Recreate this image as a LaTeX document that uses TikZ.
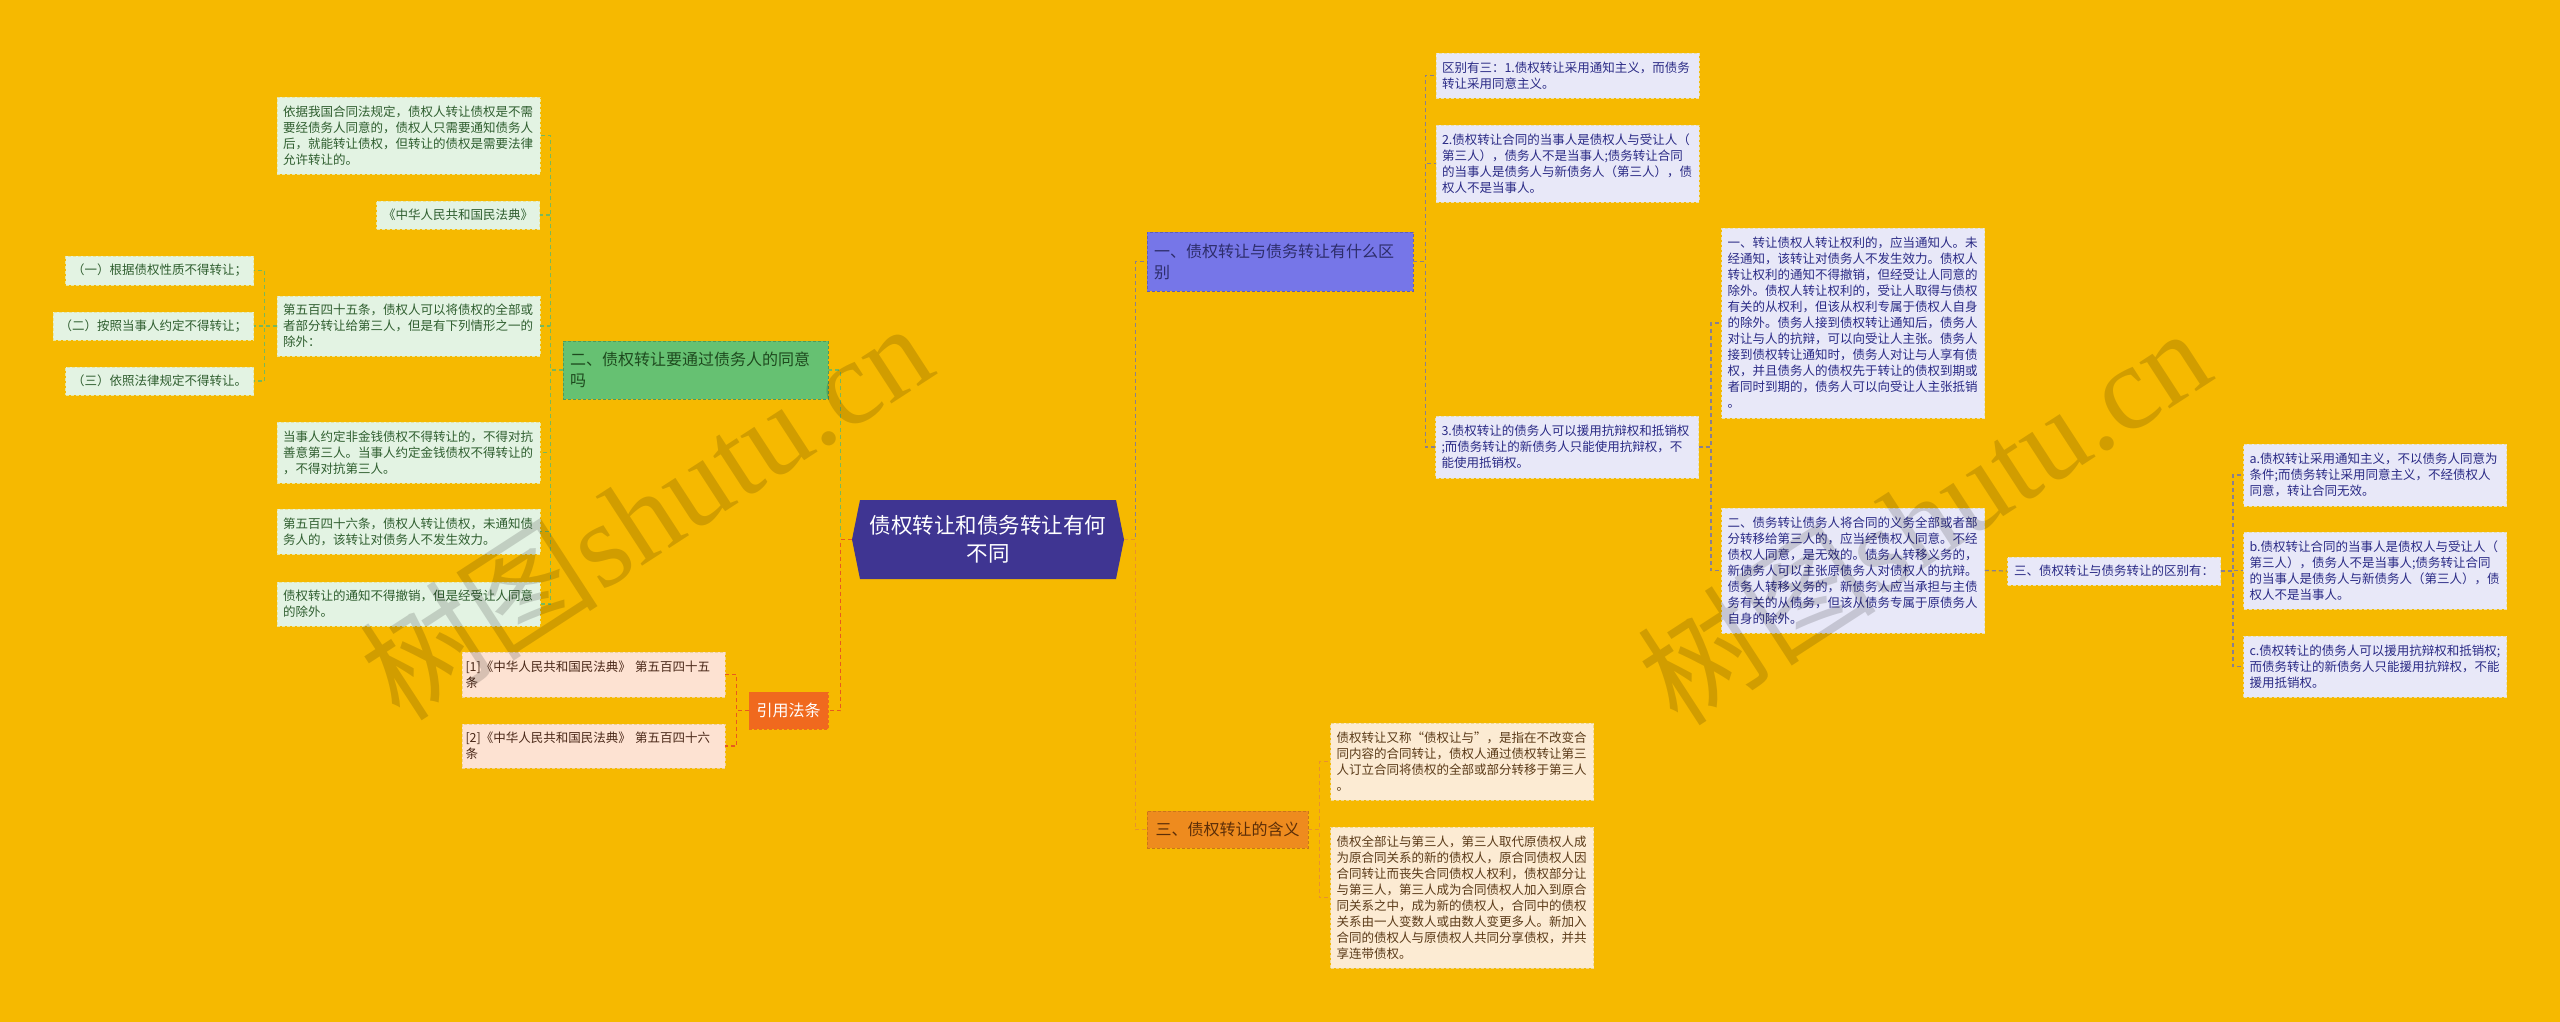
\documentclass[tikz,border=0pt]{standalone}
\usepackage{fontspec}
\setmainfont{Noto Sans CJK SC}
\newfontfamily\wmserif{Liberation Serif}
\usetikzlibrary{calc}
\definecolor{bg}{HTML}{F6B900}
\definecolor{cfill}{HTML}{3F3592}
\definecolor{gfill}{HTML}{66C172}
\definecolor{gtext}{HTML}{1E4A1E}
\definecolor{gline}{HTML}{78B85A}
\definecolor{gleaf}{HTML}{E3F3E3}
\definecolor{gleafb}{HTML}{E8E6A0}
\definecolor{gleaft}{HTML}{2F5E2F}
\definecolor{pfill}{HTML}{7676E8}
\definecolor{ptext}{HTML}{2D2D6B}
\definecolor{pline}{HTML}{8A7F8F}
\definecolor{pleaf}{HTML}{E8E8F8}
\definecolor{pleafb}{HTML}{E8E0B0}
\definecolor{pleaft}{HTML}{2A2A85}
\definecolor{ofill}{HTML}{EE8B1E}
\definecolor{otext}{HTML}{5C2E08}
\definecolor{oline}{HTML}{E8922E}
\definecolor{oleaf}{HTML}{FCEBD3}
\definecolor{oleafb}{HTML}{F0D890}
\definecolor{oleaft}{HTML}{5A3A18}
\definecolor{rfill}{HTML}{F0691E}
\definecolor{rline}{HTML}{E85A1E}
\definecolor{rleaf}{HTML}{FDE2D2}
\definecolor{rleafb}{HTML}{F0D090}
\definecolor{rleaft}{HTML}{4A2818}
\begin{document}
\begin{tikzpicture}[x=1pt,y=-1pt,
  conn/.style={line width=1.2pt, dash pattern=on 4pt off 3pt},
  box/.style={draw, line width=0.8pt, dash pattern=on 3pt off 2pt, inner ysep=0pt, align=left},
  leaf/.style={box, text width=251, inner xsep=6, font=\fontsize{12.5}{16}\selectfont},
  short/.style={box, inner xsep=6.5, minimum height=28, font=\fontsize{12.5}{16}\selectfont},
  mainb/.style={box, inner xsep=7, font=\fontsize{16}{21}\selectfont},
  gleafs/.style={fill=gleaf, draw=gleafb, text=gleaft},
  pleafs/.style={fill=pleaf, draw=pleafb, text=pleaft},
  oleafs/.style={fill=oleaf, draw=oleafb, text=oleaft},
  rleafs/.style={fill=rleaf, draw=rleafb, text=rleaft},
]
\useasboundingbox (0,0) rectangle (2560,1022);
\fill[bg] (0,0) rectangle (2560,1022);

% root
\fill[cfill] (852,539.5) -- (860,500) -- (1116,500) -- (1124,539.5) -- (1116,579) -- (860,579) -- cycle;
\node[minimum width=272, minimum height=79, inner sep=0pt, align=center, text=white,
      font=\fontsize{21.5}{28}\selectfont] (root) at (988,539.5) {债权转让和债务转让有何\\不同};

% green branch
\node[mainb, fill=gfill, draw=gfill!80!black, text=gtext, text width=251, minimum height=58] (G) at (695.5,370) {二、债权转让要通过债务人的同意\\吗};
\node[leaf, gleafs, minimum height=77] (A) at (408.5,135.5) {依据我国合同法规定，债权人转让债权是不需\\要经债务人同意的，债权人只需要通知债务人\\后，就能转让债权，但转让的债权是需要法律\\允许转让的。};
\node[short, gleafs, anchor=east] (B) at (540,215) {《中华人民共和国民法典》};
\node[leaf, gleafs, minimum height=60] (Cc) at (408.5,326) {第五百四十五条，债权人可以将债权的全部或\\者部分转让给第三人，但是有下列情形之一的\\除外：};
\node[leaf, gleafs, minimum height=61] (D) at (408.5,452.5) {当事人约定非金钱债权不得转让的，不得对抗\\善意第三人。当事人约定金钱债权不得转让的\\，不得对抗第三人。};
\node[leaf, gleafs, minimum height=45] (E) at (408.5,531.5) {第五百四十六条，债权人转让债权，未通知债\\务人的，该转让对债务人不发生效力。};
\node[leaf, gleafs, minimum height=44] (F) at (408.5,604) {债权转让的通知不得撤销，但是经受让人同意\\的除外。};
\node[short, gleafs, anchor=east, minimum height=29] (L1) at (254,270.5) {（一）根据债权性质不得转让；};
\node[short, gleafs, anchor=east] (L2) at (254,326) {（二）按照当事人约定不得转让；};
\node[short, gleafs, anchor=east] (L3) at (254,381) {（三）依照法律规定不得转让。};

% reference branch
\node[mainb, fill=rfill, draw=rfill, text=white, minimum width=79, minimum height=37, inner xsep=0pt, align=center] (Ref) at (788.5,710.5) {引用法条};
\node[box, rleafs, text width=256, inner xsep=3.5, minimum height=45, font=\fontsize{12.5}{16}\selectfont] (R1) at (593.5,674.5) {[1]《中华人民共和国民法典》~第五百四十五\\条};
\node[box, rleafs, text width=256, inner xsep=3.5, minimum height=44, font=\fontsize{12.5}{16}\selectfont] (R2) at (593.5,746) {[2]《中华人民共和国民法典》~第五百四十六\\条};

% purple branch
\node[mainb, fill=pfill, draw=pfill!80!black, text=ptext, text width=252, minimum height=59] (Y1) at (1280,261.5) {一、债权转让与债务转让有什么区\\别};
\node[leaf, pleafs, minimum height=45] (P1) at (1567.5,75.5) {区别有三：1.债权转让采用通知主义，而债务\\转让采用同意主义。};
\node[leaf, pleafs, minimum height=77] (P2) at (1567.5,163.5) {2.债权转让合同的当事人是债权人与受让人（\\第三人），债务人不是当事人;债务转让合同\\的当事人是债务人与新债务人（第三人），债\\权人不是当事人。};
\node[leaf, pleafs, minimum height=62] (P3) at (1567,447) {3.债权转让的债务人可以援用抗辩权和抵销权\\;而债务转让的新债务人只能使用抗辩权，不\\能使用抵销权。};
\node[leaf, pleafs, minimum height=190] (Q1) at (1853,323) {一、转让债权人转让权利的，应当通知人。未\\经通知，该转让对债务人不发生效力。债权人\\转让权利的通知不得撤销，但经受让人同意的\\除外。债权人转让权利的，受让人取得与债权\\有关的从权利，但该从权利专属于债权人自身\\的除外。债务人接到债权转让通知后，债务人\\对让与人的抗辩，可以向受让人主张。债务人\\接到债权转让通知时，债务人对让与人享有债\\权，并且债务人的债权先于转让的债权到期或\\者同时到期的，债务人可以向受让人主张抵销\\。};
\node[leaf, pleafs, minimum height=125] (Q2) at (1853,570.5) {二、债务转让债务人将合同的义务全部或者部\\分转移给第三人的，应当经债权人同意。不经\\债权人同意，是无效的。债务人转移义务的，\\新债务人可以主张原债务人对债权人的抗辩。\\债务人转移义务的，新债务人应当承担与主债\\务有关的从债务，但该从债务专属于原债务人\\自身的除外。};
\node[short, pleafs, minimum width=212] (S3) at (2114,571) {三、债权转让与债务转让的区别有：};
\node[leaf, pleafs, minimum height=62] (Sa) at (2375,475) {a.债权转让采用通知主义，不以债务人同意为\\条件;而债务转让采用同意主义，不经债权人\\同意，转让合同无效。};
\node[leaf, pleafs, minimum height=77] (Sb) at (2375,570.5) {b.债权转让合同的当事人是债权人与受让人（\\第三人），债务人不是当事人;债务转让合同\\的当事人是债务人与新债务人（第三人），债\\权人不是当事人。};
\node[leaf, pleafs, minimum height=61] (Sc) at (2375,666.5) {c.债权转让的债务人可以援用抗辩权和抵销权;\\而债务转让的新债务人只能援用抗辩权，不能\\援用抵销权。};

% orange branch
\node[mainb, fill=ofill, draw=ofill!85!black, text=otext, minimum width=161, minimum height=37, align=center] (O) at (1227.5,829.5) {三、债权转让的含义};
\node[leaf, oleafs, minimum height=77] (O1) at (1462,761.5) {债权转让又称“债权让与”，是指在不改变合\\同内容的合同转让，债权人通过债权转让第三\\人订立合同将债权的全部或部分转移于第三人\\。};
\node[leaf, oleafs, minimum height=141] (O2) at (1462,897.5) {债权全部让与第三人，第三人取代原债权人成\\为原合同关系的新的债权人，原合同债权人因\\合同转让而丧失合同债权人权利，债权部分让\\与第三人，第三人成为合同债权人加入到原合\\同关系之中，成为新的债权人，合同中的债权\\关系由一人变数人或由数人变更多人。新加入\\合同的债权人与原债权人共同分享债权，并共\\享连带债权。};

% connectors
\draw[conn, draw=gline] (root.west) -- ++(-11,0) |- (G.east);
\draw[conn, draw=rline] (root.west) -- ++(-11,0) |- (Ref.east);
\draw[conn, draw=pline] (root.east) -- ++(11,0) |- (Y1.west);
\draw[conn, draw=oline] (root.east) -- ++(11,0) |- (O.west);
\foreach \n in {A,B,Cc,D,E,F} \draw[conn, draw=gline] (G.west) -- ++(-12,0) |- (\n.east);
\foreach \n in {L1,L2,L3} \draw[conn, draw=gline] (Cc.west) -- ++(-12,0) |- (\n.east);
\foreach \n in {R1,R2} \draw[conn, draw=rline] (Ref.west) -- ++(-12,0) |- (\n.east);
\foreach \n in {P1,P2,P3} \draw[conn, draw=pline] (Y1.east) -- ++(12,0) |- (\n.west);
\foreach \n in {Q1,Q2} \draw[conn, draw=pline] (P3.east) -- ++(12,0) |- (\n.west);
\draw[conn, draw=pline] (Q2.east) -- (S3.west);
\foreach \n in {Sa,Sb,Sc} \draw[conn, draw=pline] (S3.east) -- ++(12,0) |- (\n.west);
\foreach \n in {O1,O2} \draw[conn, draw=oline] (O.east) -- ++(11,0) |- (\n.west);

% watermarks
\node[rotate=33, text=black, text opacity=0.15, font=\fontsize{120}{120}\selectfont] (wm1) at (645,510) {树图\wmserif shutu.cn};
\node[rotate=33, text=black, text opacity=0.15, font=\fontsize{120}{120}\selectfont] (wm2) at (1923,515) {树图\wmserif shutu.cn};
\end{tikzpicture}
\end{document}
